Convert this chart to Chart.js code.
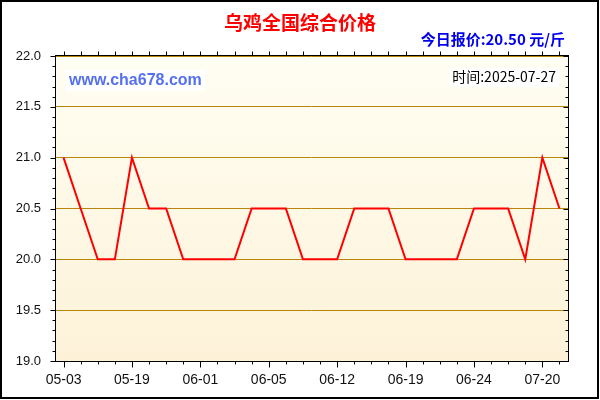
<!DOCTYPE html>
<html>
<head>
<meta charset="utf-8">
<script src="https://cdn.jsdelivr.net/npm/chart.js@4/dist/chart.umd.min.js"></script>
<style>
  body { margin: 0; background: #fff; }
  canvas { display: block; }
</style>
</head>
<body>
<canvas id="grafico" width="600" height="400"></canvas>
<script>
// datos (fechas ocultas son aproximadas)
const fechas = ['05-03','05-07','05-10','05-15','05-19','05-22','05-25','05-28','06-01','06-02',
                '06-03','06-04','06-05','06-07','06-09','06-10','06-12','06-14','06-16','06-17',
                '06-19','06-20','06-21','06-23','06-24','06-30','07-06','07-13','07-20','07-27'];
const precios = [21.0, 20.5, 20.0, 20.0, 21.0, 20.5, 20.5, 20.0, 20.0, 20.0,
                 20.0, 20.5, 20.5, 20.5, 20.0, 20.0, 20.0, 20.5, 20.5, 20.5,
                 20.0, 20.0, 20.0, 20.0, 20.5, 20.5, 20.5, 20.0, 21.0, 20.5];
const cadaEtiqueta = 4;       // una etiqueta cada 4 puntos
const yMin = 19.0, yMax = 22.0, yPaso = 0.5, yMenor = 0.1;

const titulo = '乌鸡全国综合价格';
const precioHoy = '今日报价:20.50 元/斤';
const marcaAgua = 'www.cha678.com';
const fechaTexto = '时间:2025-07-27';

const dorado = '#b8860b';

// fondo degradado, marco, marcas menores y textos
const decoracion = {
    id: 'decoracion',
    beforeDraw(chart) {
        const { ctx, chartArea: a } = chart;
        ctx.save();
        ctx.fillStyle = '#fff';
        ctx.fillRect(0, 0, chart.width, chart.height);
        const g = ctx.createLinearGradient(0, a.top, 0, a.bottom);
        g.addColorStop(0, '#fffef3');
        g.addColorStop(1, '#fdf2d8');
        ctx.fillStyle = g;
        ctx.fillRect(a.left, a.top, a.right - a.left, a.bottom - a.top);
        ctx.restore();
    },
    afterDraw(chart) {
        const { ctx, chartArea: a } = chart;
        const x = chart.scales.x, y = chart.scales.y;
        const L = a.left + 0.5, R = a.right + 0.5, T = a.top - 0.5, B = a.bottom + 0.5;
        ctx.save();
        ctx.strokeStyle = '#000';
        ctx.lineWidth = 1;
        ctx.strokeRect(L, T, R - L, B - T);

        ctx.beginPath();
        // marcas eje x (abajo hacia fuera, arriba hacia fuera)
        for (let i = 0; i < fechas.length; i++) {
            const px = Math.round(x.getPixelForValue(i)) + 0.5;
            const mayor = i % cadaEtiqueta === 0;
            ctx.moveTo(px, B); ctx.lineTo(px, B + (mayor ? 6 : 3));
            ctx.moveTo(px, T); ctx.lineTo(px, T - 4);
        }
        // marcas eje y (izquierda fuera, derecha dentro)
        const n = Math.round((yMax - yMin) / yMenor);
        for (let k = 0; k <= n; k++) {
            const v = yMin + k * yMenor;
            const py = Math.round(y.getPixelForValue(v)) + 0.5;
            const mayor = k % Math.round(yPaso / yMenor) === 0;
            ctx.moveTo(L, py); ctx.lineTo(L - (mayor ? 5 : 3), py);
            ctx.moveTo(R, py); ctx.lineTo(R - (mayor ? 5 : 3), py);
        }
        ctx.stroke();

        // borde exterior
        ctx.lineWidth = 2;
        ctx.strokeRect(1, 1, chart.width - 3, chart.height - 3);

        // titulo
        ctx.textBaseline = 'middle';
        ctx.textAlign = 'center';
        ctx.fillStyle = '#ff0000';
        ctx.font = 'bold 19px "Noto Sans CJK SC", sans-serif';
        ctx.fillText(titulo, 300, 23);

        ctx.textAlign = 'right';
        ctx.fillStyle = '#0000ee';
        ctx.font = 'bold 15px "Noto Sans CJK SC", "Liberation Sans", sans-serif';
        ctx.fillText(precioHoy, 565, 39);

        // marca de agua con fondo blanco
        ctx.font = 'bold 16px "Liberation Sans", Arial, sans-serif';
        ctx.textAlign = 'left';
        let w = ctx.measureText(marcaAgua).width;
        ctx.fillStyle = '#fff';
        ctx.fillRect(66, 70, w + 6, 21);
        ctx.fillStyle = '#5570ef';
        ctx.fillText(marcaAgua, 69, 81);

        ctx.font = '14px "Noto Sans CJK SC", "Liberation Sans", sans-serif';
        ctx.textAlign = 'right';
        w = ctx.measureText(fechaTexto).width;
        ctx.fillStyle = '#fff';
        ctx.fillRect(556 - w - 3, 68, w + 6, 19);
        ctx.fillStyle = '#000';
        ctx.fillText(fechaTexto, 556, 77);
        ctx.restore();
    }
};

new Chart(document.getElementById('grafico'), {
    type: 'line',
    data: {
        labels: fechas,
        datasets: [{
            data: precios,
            borderColor: '#ff0000',
            borderWidth: 2,
            pointRadius: 0,
            tension: 0,
            fill: false
        }]
    },
    options: {
        responsive: false,
        animation: false,
        devicePixelRatio: 1,
        layout: { padding: { top: 56, right: 32, bottom: 0, left: 0 } },
        plugins: {
            legend: { display: false },
            tooltip: { enabled: false }
        },
        scales: {
            x: {
                type: 'category',
                offset: true,
                grid: { display: false, drawTicks: false },
                border: { display: false },
                ticks: {
                    autoSkip: false,
                    maxRotation: 0,
                    padding: 11,
                    color: '#111',
                    font: { family: '"Liberation Sans", Arial, sans-serif', size: 14 },
                    callback: (v, i) => i % cadaEtiqueta === 0 ? fechas[i] : ''
                },
                afterFit(scale) { scale.height = 39; }
            },
            y: {
                min: yMin,
                max: yMax,
                grid: { color: dorado, lineWidth: 1, drawTicks: false },
                border: { display: false },
                ticks: {
                    stepSize: yPaso,
                    padding: 14,
                    color: '#111',
                    font: { family: '"Liberation Sans", Arial, sans-serif', size: 13 },
                    callback: v => v.toFixed(1)
                },
                afterFit(scale) { scale.width = 55; }
            }
        }
    },
    plugins: [decoracion]
});
</script>
</body>
</html>
